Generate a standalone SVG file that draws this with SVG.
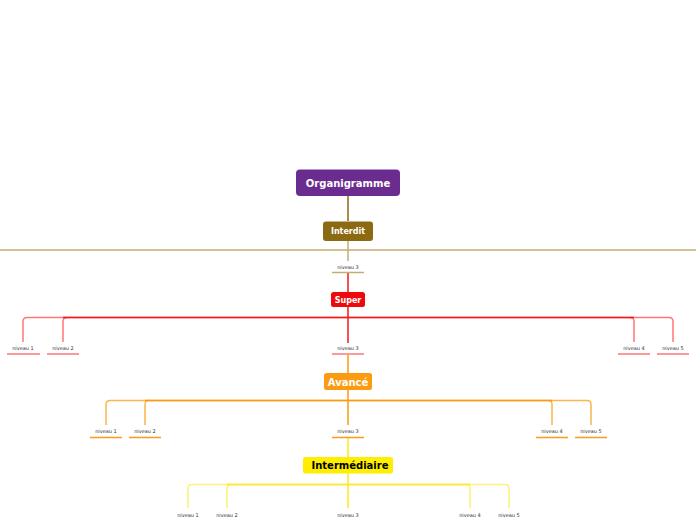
<svg xmlns="http://www.w3.org/2000/svg" width="696" height="520" viewBox="0 0 696 520">
<style>
.box text{font-family:"DejaVu Sans",Verdana,sans-serif;font-weight:bold;text-anchor:middle}
.lbl{font-family:"DejaVu Sans",Verdana,sans-serif;font-size:5px;fill:#333;text-anchor:middle}
.c{fill:none;stroke-width:1.5}
.tan{stroke:#c4ac74}
.red{stroke:#f01818}
.redl{stroke:#f77;stroke-width:1.5;fill:none}
.org{stroke:#fb9a12}
.orgl{stroke:#fcb44c;stroke-width:1.5;fill:none}
.yel{stroke:#ffe818}
.yell{stroke:#fff07a;stroke-width:1.5;fill:none}
.ul{stroke-width:1.5}
</style>
<rect width="696" height="520" fill="#fff"/>
<g id="connectors">
  <path class="c" d="M348,196 V221" stroke="#8c6a12"/>
  <path class="c tan" d="M0,250 H696" stroke-width="2"/>
  <path class="c tan" d="M348,241 V261"/>
  <path class="c red" d="M348,273 V292"/>
  <!-- Super level -->
  <path class="redl" d="M67,317.5 H27 Q23,317.5 23,321.5 V342"/>
  <path class="redl" d="M348,317.5 H67 Q63,317.5 63,321.5 V342"/>
  <path class="redl" d="M348,317.5 H630 Q634,317.5 634,321.5 V342"/>
  <path class="redl" d="M630,317.5 H669 Q673,317.5 673,321.5 V342"/>
  <path class="c red" d="M348,307 V343"/>
  <path class="c red" d="M63,317.5 H634"/>
  <path class="c org" d="M348,355 V373"/>
  <!-- Avancé level -->
  <path class="orgl" d="M149,400.5 H110 Q106,400.5 106,404.5 V425"/>
  <path class="orgl" d="M348,400.5 H149 Q145,400.5 145,404.5 V425"/>
  <path class="orgl" d="M348,400.5 H548 Q552,400.5 552,404.5 V425"/>
  <path class="orgl" d="M548,400.5 H587 Q591,400.5 591,404.5 V425"/>
  <path class="c org" d="M348,390 V425"/>
  <path class="c org" d="M145,400.5 H552"/>
  <path class="c yel" d="M348,438 V457"/>
  <!-- Intermédiaire level -->
  <path class="yell" d="M231,484.5 H192 Q188,484.5 188,488.5 V508"/>
  <path class="yell" d="M348,484.5 H231 Q227,484.5 227,488.5 V508"/>
  <path class="yell" d="M348,484.5 H466 Q470,484.5 470,488.5 V508"/>
  <path class="yell" d="M466,484.5 H505 Q509,484.5 509,488.5 V508"/>
  <path class="c yel" d="M348,473 V508"/>
  <path class="c yel" d="M227,484.5 H470"/>
</g>
<g id="organigramme" class="box">
  <rect x="296" y="169.5" width="104" height="26.5" rx="4" fill="#6a2c8f"/>
  <text x="348" y="186.5" font-size="10" fill="#fff">Organigramme</text>
</g>
<g id="interdit" class="box">
  <rect x="323" y="221.5" width="50" height="19.5" rx="3" fill="#8c6a12"/>
  <text x="348" y="234" font-size="8" fill="#fff">Interdit</text>
</g>
<g id="interdit-n3">
  <text class="lbl" x="348" y="268.5">niveau 3</text>
  <path class="tan" d="M332,272.5 H364" stroke-width="1.5"/>
</g>
<g id="super" class="box">
  <rect x="331" y="292" width="34" height="15" rx="2.5" fill="#ee0a0a"/>
  <text x="348" y="302.8" font-size="8" fill="#fff">Super</text>
</g>
<g id="super-n1"><text class="lbl" x="23" y="350">niveau 1</text><path d="M7,354 H40" stroke="#f77" class="ul"/></g>
<g id="super-n2"><text class="lbl" x="63" y="350">niveau 2</text><path d="M47,354 H79" stroke="#f77" class="ul"/></g>
<g id="super-n3"><text class="lbl" x="348" y="350">niveau 3</text><path d="M332,354 H364" stroke="#f77" class="ul"/></g>
<g id="super-n4"><text class="lbl" x="634" y="350">niveau 4</text><path d="M618,354 H650" stroke="#f77" class="ul"/></g>
<g id="super-n5"><text class="lbl" x="673" y="350">niveau 5</text><path d="M657,354 H689" stroke="#f77" class="ul"/></g>
<g id="avance" class="box">
  <rect x="324" y="373" width="48" height="17" rx="2.5" fill="#fb9b12"/>
  <text x="348" y="385.5" font-size="10" fill="#fff">Avancé</text>
</g>
<g id="avance-n1"><text class="lbl" x="106" y="433">niveau 1</text><path d="M90,437.5 H122" stroke="#fb9b17" class="ul"/></g>
<g id="avance-n2"><text class="lbl" x="145" y="433">niveau 2</text><path d="M129,437.5 H161" stroke="#fb9b17" class="ul"/></g>
<g id="avance-n3"><text class="lbl" x="348" y="433">niveau 3</text><path d="M332,437.5 H364" stroke="#fb9b17" class="ul"/></g>
<g id="avance-n4"><text class="lbl" x="552" y="433">niveau 4</text><path d="M536,437.5 H568" stroke="#fb9b17" class="ul"/></g>
<g id="avance-n5"><text class="lbl" x="591" y="433">niveau 5</text><path d="M575,437.5 H607" stroke="#fb9b17" class="ul"/></g>
<g id="intermediaire" class="box">
  <rect x="303" y="457" width="90" height="16.5" rx="2.5" fill="#ffee00"/>
  <text x="350" y="469" font-size="10" fill="#000">Intermédiaire</text>
</g>
<g id="inter-n1"><text class="lbl" x="188" y="517">niveau 1</text></g>
<g id="inter-n2"><text class="lbl" x="227" y="517">niveau 2</text></g>
<g id="inter-n3"><text class="lbl" x="348" y="517">niveau 3</text></g>
<g id="inter-n4"><text class="lbl" x="470" y="517">niveau 4</text></g>
<g id="inter-n5"><text class="lbl" x="509" y="517">niveau 5</text></g>
</svg>
